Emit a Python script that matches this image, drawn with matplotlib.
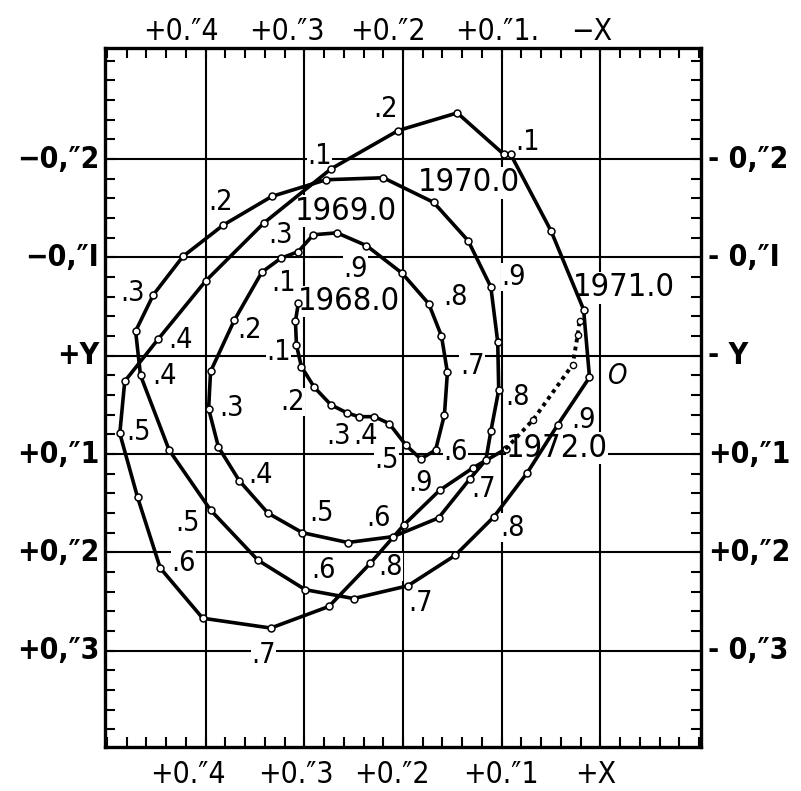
import matplotlib
matplotlib.use('Agg')
import matplotlib.pyplot as plt
from matplotlib import font_manager
from matplotlib.ticker import MultipleLocator, NullLocator

# narrow sans if there is one
names = set((f.name, f.stretch) for f in font_manager.fontManager.ttflist)
if any(n == 'Liberation Sans Narrow' for n, s in names):
    FAM, STR, K = 'Liberation Sans Narrow', 'normal', 1.0
elif ('DejaVu Sans', 'condensed') in names:
    FAM, STR, K = 'DejaVu Sans', 'condensed', 0.9
else:
    FAM, STR, K = 'Liberation Sans', 'normal', 0.88
plt.rcParams['font.family'] = [FAM, 'DejaVu Sans']
plt.rcParams['font.stretch'] = STR

# path of the pole 1968.0 - 1972.0, arcsec (x grows to the left, y grows downward)
path_x = [0.306, 0.309, 0.308, 0.303, 0.290, 0.273, 0.257, 0.245, 0.229, 0.214,
          0.197, 0.182, 0.167, 0.158, 0.155, 0.161, 0.174, 0.201, 0.237, 0.267,
          0.291, 0.306, 0.324, 0.343, 0.371, 0.395, 0.397, 0.387, 0.366, 0.337,
          0.302, 0.256, 0.210, 0.164, 0.132, 0.116, 0.111, 0.103, 0.104, 0.111,
          0.134, 0.169, 0.220, 0.278, 0.333, 0.382, 0.423, 0.453, 0.471, 0.466,
          0.437, 0.395, 0.347, 0.299, 0.250, 0.195, 0.147, 0.108, 0.074, 0.043,
          0.011, 0.017, 0.050, 0.091, 0.098, 0.145, 0.205, 0.273, 0.341, 0.400,
          0.448, 0.482, 0.487, 0.469, 0.446, 0.403, 0.334, 0.275, 0.233, 0.199,
          0.163, 0.129, 0.096]
path_y = [-0.054, -0.035, -0.011, 0.011, 0.032, 0.050, 0.058, 0.062, 0.062, 0.069,
          0.091, 0.105, 0.096, 0.060, 0.017, -0.020, -0.053, -0.084, -0.112, -0.125,
          -0.123, -0.106, -0.099, -0.085, -0.036, 0.016, 0.054, 0.093, 0.127, 0.160,
          0.180, 0.190, 0.184, 0.165, 0.125, 0.106, 0.077, 0.035, -0.014, -0.070,
          -0.117, -0.156, -0.181, -0.179, -0.162, -0.133, -0.101, -0.062, -0.025, 0.020,
          0.096, 0.157, 0.208, 0.238, 0.247, 0.234, 0.203, 0.164, 0.119, 0.070,
          0.022, -0.047, -0.127, -0.205, -0.205, -0.247, -0.229, -0.190, -0.135, -0.076,
          -0.017, 0.026, 0.079, 0.144, 0.216, 0.267, 0.277, 0.255, 0.211, 0.172,
          0.137, 0.114, 0.095]

# preliminary values after 1972.0 (dotted)
prelim_x = [0.096, 0.068, 0.028, 0.023, 0.021]
prelim_y = [0.095, 0.065, 0.009, -0.021, -0.035]

year_text = ['1968.0', '1969.0', '1970.0', '1971.0', '1972.0']
year_x = [0.255, 0.258, 0.133, -0.024, 0.044]
year_y = [-0.055, -0.147, -0.176, -0.069, 0.094]

tenth_text = ['.1', '.2', '.3', '.4', '.5', '.6', '.7', '.8', '.9'] * 4
tenth_x = [0.326, 0.312, 0.265, 0.238, 0.217, 0.147, 0.130, 0.147, 0.248,
           0.321, 0.356, 0.374, 0.344, 0.283, 0.225, 0.118, 0.084, 0.088,
           0.285, 0.385, 0.474, 0.442, 0.418, 0.281, 0.182, 0.089, 0.017,
           0.074, 0.218, 0.324, 0.425, 0.468, 0.422, 0.341, 0.213, 0.182]
tenth_y = [-0.004, 0.047, 0.082, 0.082, 0.106, 0.098, 0.010, -0.060, -0.088,
           -0.074, -0.026, 0.053, 0.121, 0.160, 0.165, 0.136, 0.042, -0.080,
           -0.203, -0.156, -0.064, 0.021, 0.170, 0.218, 0.252, 0.175, 0.065,
           -0.217, -0.251, -0.123, -0.016, 0.078, 0.211, 0.304, 0.215, 0.129]

grid_x = [0.4, 0.3, 0.2, 0.1, 0.0]
grid_y = [-0.2, -0.1, 0.0, 0.1, 0.2, 0.3]

top_labels = ['+0.\u20334', '+0.\u20333', '+0.\u20332', '+0.\u20331.', '\u2212X']
top_pos = [0.425, 0.318, 0.215, 0.105, 0.009]
bottom_labels = ['+0.\u20334', '+0.\u20333', '+0.\u20332', '+0.\u20331', '+X']
bottom_pos = [0.418, 0.309, 0.211, 0.101, 0.005]
left_labels = ['\u22120,\u20332', '\u22120,\u2033I', '+Y', '+0,\u20331', '+0,\u20332', '+0,\u20333']
right_labels = ['- 0,\u20332', '- 0,\u2033I', '- Y', '+0,\u20331', '+0,\u20332', '- 0,\u20333']

fig = plt.figure(figsize=(8.01, 7.91), dpi=100)
ax = fig.add_axes([105 / 801, 44 / 791, 596 / 801, 699 / 791])
ax.set_xlim(0.502, -0.102)
ax.set_ylim(0.398, -0.313)

for gx in grid_x:
    ax.axvline(gx, color='black', lw=1.5, zorder=1)
for gy in grid_y:
    ax.axhline(gy, color='black', lw=1.5, zorder=1)

ax.plot(path_x, path_y, color='black', lw=2.6, zorder=3,
        marker='o', ms=5, mfc='white', mec='black', mew=1.1)
ax.plot(prelim_x, prelim_y, color='black', lw=2.8, ls=(0, (1, 1.1)), zorder=3)
ax.plot(prelim_x[1:], prelim_y[1:], ls='none', marker='o', ms=4.5,
        mfc='white', mec='black', mew=1.0, zorder=3)

box = dict(fc='white', ec='none', pad=0.3)
for t, x, y in zip(year_text, year_x, year_y):
    ax.text(x, y, t, fontsize=26 * K, ha='center', va='center', zorder=2, bbox=box)
for t, x, y in zip(tenth_text, tenth_x, tenth_y):
    ax.text(x, y, t, fontsize=23 * K, ha='center', va='center', zorder=2, bbox=box)
ax.text(-0.018, 0.021, 'O', fontsize=22 * K, style='italic', ha='center', va='center')

# frame ticks every 0.02"
ax.xaxis.set_major_locator(NullLocator())
ax.yaxis.set_major_locator(NullLocator())
ax.xaxis.set_minor_locator(MultipleLocator(0.02))
ax.yaxis.set_minor_locator(MultipleLocator(0.02))
ax.tick_params(which='minor', direction='in', length=7, width=1.5,
               top=True, bottom=True, left=True, right=True,
               labelbottom=False, labelleft=False)
for s in ax.spines.values():
    s.set_linewidth(2.4)

xt = ax.get_xaxis_transform()
yt = ax.get_yaxis_transform()
for t, x in zip(top_labels, top_pos):
    ax.text(x, 1.024, t, transform=xt, fontsize=24 * K, ha='center', va='center')
for t, x in zip(bottom_labels, bottom_pos):
    ax.text(x, -0.04, t, transform=xt, fontsize=24 * K, ha='center', va='center')
for t, y in zip(left_labels, grid_y):
    ax.text(-0.01, y, t, transform=yt, fontsize=24 * K, ha='right', va='center',
            weight='bold')
for t, y in zip(right_labels, grid_y):
    ax.text(1.012, y, t, transform=yt, fontsize=24 * K, ha='left', va='center',
            weight='bold')

fig.savefig('out.png', dpi=100)
